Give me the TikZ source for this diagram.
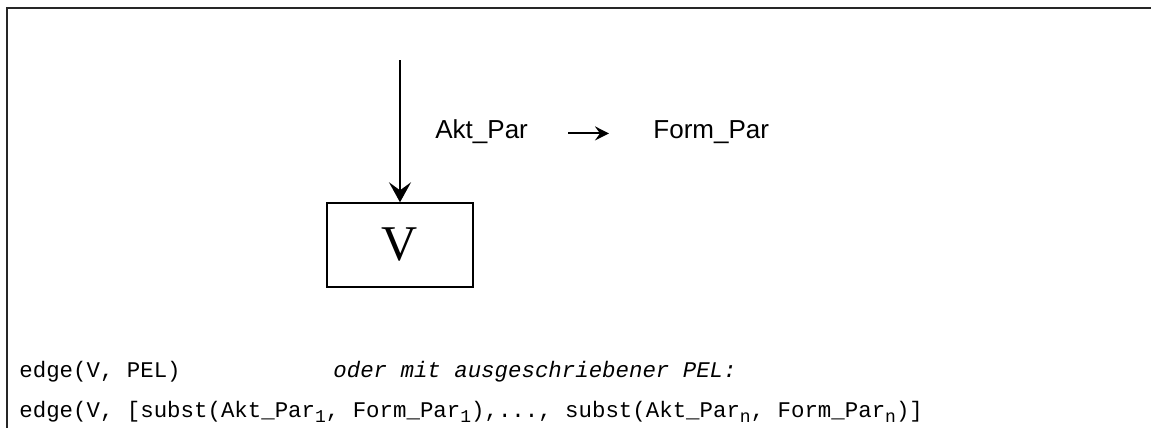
\documentclass[tikz,border=0pt]{standalone}
\usepackage{fontspec}
\setmainfont{Liberation Serif}
\setsansfont{Liberation Sans}
\setmonofont{Liberation Mono}
\usetikzlibrary{
	arrows.meta,
	positioning,
}
% lowered index inside the code lines
\newcommand{\low}[1]{\raisebox{-2.5pt}{\fontsize{9}{9}\selectfont #1}}

\begin{document}
\begin{tikzpicture}[
		x=0.5pt, y=-0.5pt,
		frame/.style = {line width=1.3pt, black!85},
		vbox/.style = {rectangle, draw, line width=0.7pt,
			minimum width=73pt, minimum height=42pt, inner sep=0pt,
			font=\rmfamily\fontsize{25}{25}\selectfont},
		par/.style = {inner sep=0pt, anchor=base west,
			font=\sffamily\fontsize{13}{13}\selectfont},
		code/.style = {inner sep=0pt, anchor=base west,
			font=\ttfamily\fontsize{11.2}{11.2}\selectfont},
		feed/.style = {line width=1pt,
			-{Stealth[length=10pt, width=11pt, inset=4pt]}},
		maps/.style = {line width=1pt,
			-{Stealth[length=7pt, width=7pt, inset=2.5pt]}},
	]
	\useasboundingbox (0,0) rectangle (1151,428);
	% frame: only top and left edge
	\draw[frame] (7,428) -- (7,8) -- (1151,8);

	\node[vbox] (V) at (400,245) {V};
	\coordinate (in) at (400,60);
	\draw[feed] (in) -- (V);

	\node[par] (akt)  at (435,138) {Akt\_Par};
	\node[par] (form) at (653,138) {Form\_Par};
	\draw[maps, shorten <=20pt, shorten >=22pt] (akt.mid east) -- (form.mid west);

	\node[code] (short) at (19,377) {edge(V, PEL)};
	\node[code, font=\ttfamily\itshape\fontsize{11.2}{11.2}\selectfont]
		(hint) at (333,377) {oder mit ausgeschriebener PEL:};
	\node[code] (long) at (19,417)
		{edge(V, [subst(Akt\_Par\low{1}, Form\_Par\low{1}),..., subst(Akt\_Par\low{n}, Form\_Par\low{n})]};
\end{tikzpicture}
\end{document}
